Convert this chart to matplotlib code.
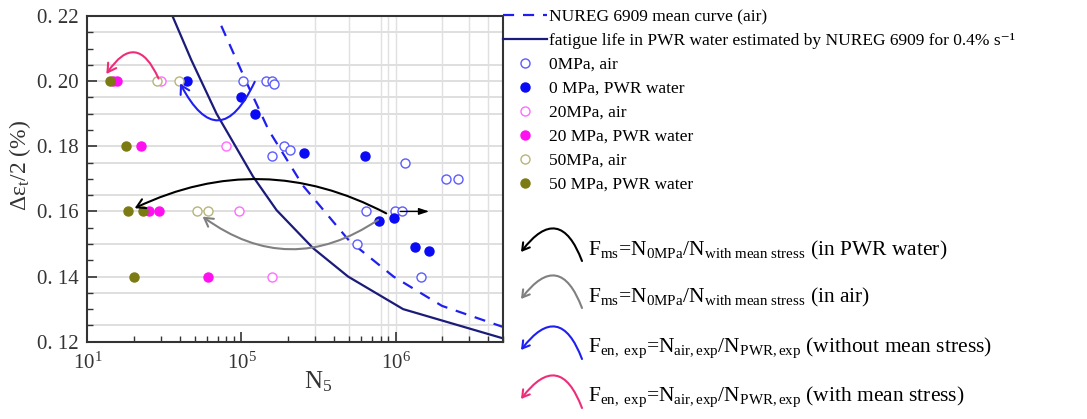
#!/usr/bin/env python3
"""Strain amplitude vs fatigue life, mean stress and PWR water effects"""

import numpy as np
import matplotlib
matplotlib.use("Agg")
import matplotlib.pyplot as plt
from matplotlib.ticker import FixedLocator, LogLocator, MultipleLocator, NullFormatter

plt.rcParams['font.family'] = ['Liberation Serif', 'DejaVu Serif']
plt.rcParams['mathtext.fontset'] = 'custom'
plt.rcParams['mathtext.rm'] = 'Liberation Serif'
plt.rcParams['mathtext.it'] = 'Liberation Serif:italic'
plt.rcParams['mathtext.default'] = 'regular'

# curves
n_mean_air = [7.4e4, 1.07e5, 1.5e5, 2.5e5, 5.0e5, 9.7e5, 2.0e6, 5.0e6]
s_mean_air = [0.217, 0.200, 0.185, 0.168, 0.151, 0.140, 0.131, 0.1245]
n_pwr_est = [3.57e4, 4.73e4, 6.9e4, 1.19e5, 1.69e5, 2.92e5, 4.92e5, 1.12e6, 5.0e6]
s_pwr_est = [0.220, 0.2065, 0.190, 0.1707, 0.1604, 0.1487, 0.140, 0.130, 0.121]

# test points
n_air_0 = [1.03e5, 1.45e5, 1.58e5, 1.62e5, 1.90e5, 2.06e5, 1.59e5, 1.15e6,
           2.13e6, 2.55e6, 6.4e5, 9.9e5, 1.1e6, 5.66e5, 1.47e6]
s_air_0 = [0.200, 0.200, 0.200, 0.199, 0.180, 0.179, 0.177, 0.175,
           0.170, 0.170, 0.160, 0.160, 0.160, 0.150, 0.140]
n_pwr_0 = [4.46e4, 1.0e5, 1.23e5, 2.56e5, 6.3e5, 7.83e5, 9.7e5, 1.33e6, 1.64e6]
s_pwr_0 = [0.200, 0.195, 0.190, 0.178, 0.177, 0.157, 0.158, 0.149, 0.148]
n_air_20 = [3.03e4, 8.0e4, 9.7e4, 1.59e5]
s_air_20 = [0.200, 0.180, 0.160, 0.140]
n_pwr_20 = [1.47e4, 1.55e4, 2.22e4, 2.50e4, 2.92e4, 6.1e4]
s_pwr_20 = [0.200, 0.200, 0.180, 0.160, 0.160, 0.140]
n_air_50 = [2.83e4, 3.92e4, 5.18e4, 6.07e4]
s_air_50 = [0.200, 0.200, 0.160, 0.160]
n_pwr_50 = [1.40e4, 1.77e4, 1.84e4, 2.30e4, 2.0e4]
s_pwr_50 = [0.200, 0.180, 0.160, 0.160, 0.140]

hgrid = [0.215, 0.205, 0.200, 0.195, 0.190, 0.180, 0.175, 0.165, 0.160,
         0.150, 0.140, 0.135, 0.125]
vgrid = [3e5, 5e5, 8e5, 9e5, 1e6, 2e6, 3e6, 4e6]

xtick_pos = [1e4, 1e5, 1e6]
xtick_lab = ['$10^1$', '$10^5$', '$10^6$']
ytick_pos = [0.12, 0.14, 0.16, 0.18, 0.20, 0.22]
ytick_lab = ['0. 12', '0. 14', '0. 16', '0. 18', '0. 20', '0. 22']

fig = plt.figure(figsize=(10.87, 4.19), dpi=100)
ax = fig.add_axes([0.0803, 0.1845, 0.3827, 0.7773])
ax.set_xscale('log')
ax.set_xlim(1e4, 5e6)
ax.set_ylim(0.12, 0.22)

for g in hgrid:
    ax.axhline(g, color='#d9d9d9', lw=1.2, zorder=0)
for g in vgrid:
    ax.axvline(g, color='#e0e0e0', lw=1.0, zorder=0)

ax.plot(n_mean_air, s_mean_air, ls=(0, (5, 4)), color='#1f1ff0', lw=1.6,
        label='NUREG 6909 mean curve (air)')
ax.plot(n_pwr_est, s_pwr_est, color='#1b1b7a', lw=1.6,
        label='fatigue life in PWR water estimated by NUREG 6909 for 0.4% s\u207b\u00b9')

ms = 6.5
ax.plot(n_air_0, s_air_0, 'o', mfc='white', mec='#5c5cff', mew=1.0, ms=ms, label='0MPa, air')
ax.plot(n_pwr_0, s_pwr_0, 'o', color='#0a0af5', ms=ms, label='0 MPa, PWR water')
ax.plot(n_air_20, s_air_20, 'o', mfc='white', mec='#ff6cff', mew=1.0, ms=ms, label='20MPa, air')
ax.plot(n_pwr_20, s_pwr_20, 'o', color='#ff10f0', ms=ms, label='20 MPa, PWR water')
ax.plot(n_air_50, s_air_50, 'o', mfc='white', mec='#b8b47a', mew=1.0, ms=ms, label='50MPa, air')
ax.plot(n_pwr_50, s_pwr_50, 'o', color='#7c7a12', ms=ms, label='50 MPa, PWR water', zorder=3)

# ratio arrows inside the plot
def arc(start, end, rad, color):
    ax.annotate('', xy=end, xytext=start,
                arrowprops=dict(arrowstyle='->,head_length=0.6,head_width=0.35',
                                color=color, lw=1.5,
                                connectionstyle=f'arc3,rad={rad}',
                                shrinkA=0, shrinkB=0))

arc((2.9e4, 0.2008), (1.33e4, 0.2022), 0.9, '#ee2d7a')
arc((1.22e5, 0.1998), (4.0e4, 0.1993), -1.0, '#1e1ef5')
arc((8.7e5, 0.1594), (2.03e4, 0.161), 0.25, 'black')
arc((7.7e5, 0.1574), (5.6e4, 0.1584), -0.35, '#808080')
ax.annotate('', xy=(1.65e6, 0.16), xytext=(1.07e6, 0.16),
            arrowprops=dict(arrowstyle='-|>,head_length=0.6,head_width=0.2',
                            color='black', lw=1.0, shrinkA=0, shrinkB=0))

ax.xaxis.set_major_locator(FixedLocator(xtick_pos))
ax.set_xticklabels(xtick_lab)
ax.xaxis.set_minor_locator(LogLocator(base=10, subs=np.arange(2, 10)))
ax.xaxis.set_minor_formatter(NullFormatter())
ax.set_yticks(ytick_pos)
ax.set_yticklabels(ytick_lab)
ax.yaxis.set_minor_locator(MultipleLocator(0.005))
ax.tick_params(which='both', direction='in', labelsize=15, top=False, right=False,
               colors='#333333', labelcolor='#333333')
ax.tick_params(which='major', length=7, width=1.2)
ax.tick_params(which='minor', length=4, width=1.0)
ax.tick_params(axis='x', pad=8)
ax.tick_params(axis='y', pad=6)
for sp in ax.spines.values():
    sp.set_linewidth(1.5)
    sp.set_color('#333333')

ax.set_xlabel('N$_5$', fontsize=18, color='#333333')
ax.xaxis.set_label_coords(0.555, -0.085)
ax.set_ylabel('Δε$_t$/2 (%)', fontsize=17, color='#333333')
ax.yaxis.set_label_coords(-0.13, 0.54)

ax.legend(loc='upper left', bbox_to_anchor=(1.0, 1.022), frameon=False,
          fontsize=12.5, borderaxespad=0, borderpad=0, handlelength=2.5,
          handletextpad=0.12, labelspacing=0.45)

# formula key on the right
rows = [
    ('black', 'F$_{ms}$=N$_{0MPa}$/N$_{with\\ mean\\ stress}$ (in PWR water)', 250),
    ('#808080', 'F$_{ms}$=N$_{0MPa}$/N$_{with\\ mean\\ stress}$ (in air)', 297),
    ('#1e1ef5', 'F$_{en,\\ exp}$=N$_{air,exp}$/N$_{PWR,exp}$ (without mean stress)', 348),
    ('#ee2d7a', 'F$_{en,\\ exp}$=N$_{air,exp}$/N$_{PWR,exp}$ (with mean stress)', 397),
]
H = 419
for color, txt, yc in rows:
    ax.annotate('', xy=(521, H - (yc + 2)), xytext=(582, H - (yc + 11)),
                xycoords='figure pixels', textcoords='figure pixels',
                arrowprops=dict(arrowstyle='->,head_length=0.5,head_width=0.3',
                                color=color, lw=1.5,
                                connectionstyle='arc3,rad=0.9',
                                shrinkA=0, shrinkB=0))
    fig.text(588 / 1087, 1 - yc / H, txt, fontsize=15.5, va='center', ha='left')

plt.savefig('out.png', dpi=100)
